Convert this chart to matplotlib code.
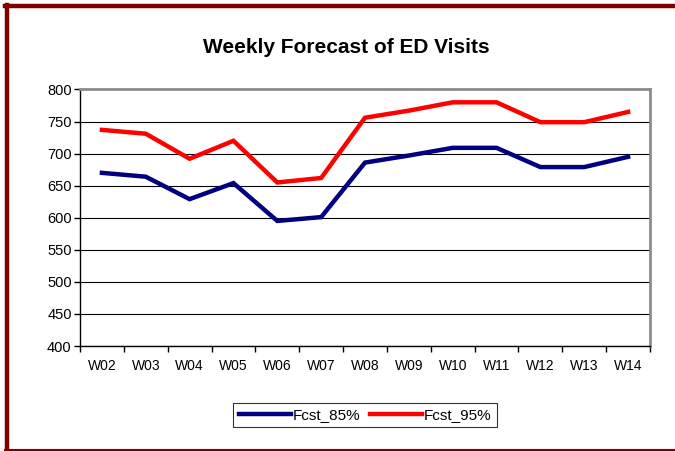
import numpy as np
import matplotlib.pyplot as plt
from matplotlib.lines import Line2D

plt.rcParams['font.family'] = ['Liberation Sans', 'DejaVu Sans']

# data
weeks = ["W02", "W03", "W04", "W05", "W06", "W07", "W08",
         "W09", "W10", "W11", "W12", "W13", "W14"]
fcst_85 = [670, 664, 629, 654, 595, 601, 686, 697, 709, 709, 679, 679, 695]
fcst_95 = [737, 731, 692, 720, 655, 662, 756, 767, 780, 780, 749, 749, 765]

fig = plt.figure(figsize=(6.75, 4.51), dpi=100)
ax = fig.add_axes([0.1185, 0.2328, 0.8445, 0.5688])

x = np.arange(len(weeks))
ax.plot(x, fcst_85, color="#000080", lw=3.2, label="Fcst_85%", solid_joinstyle="miter")
ax.plot(x, fcst_95, color="#FF0000", lw=3.2, label="Fcst_95%", solid_joinstyle="miter")

ax.set_ylim(400, 800)
ax.set_yticks(np.arange(400, 801, 50))
ax.set_xlim(-0.5, len(weeks) - 0.5)
ax.set_xticks(x)
ax.set_xticklabels(weeks)
ax.set_xticks(np.arange(-0.5, len(weeks), 1), minor=True)
ax.tick_params(axis="x", which="major", length=0, pad=9, labelsize=10)
ax.tick_params(axis="x", which="minor", length=4, width=1, direction="out")
ax.tick_params(axis="y", length=4, width=1, direction="out", pad=2, labelsize=10.5)

ax.grid(axis="y", color="black", lw=0.8)
ax.set_axisbelow(True)
for side in ["left", "bottom"]:
    ax.spines[side].set_color("black")
    ax.spines[side].set_linewidth(1)
for side in ["top", "right"]:
    ax.spines[side].set_color("#8c8c8c")
    ax.spines[side].set_linewidth(2)

fig.text(0.513, 0.895, "Weekly Forecast of ED Visits", ha="center", va="center",
         fontsize=15, fontweight="bold")

leg = fig.legend(loc="center", bbox_to_anchor=(0.541, 0.08), ncol=2, frameon=True,
                 fancybox=False, edgecolor="black", fontsize=11, handlelength=3.4,
                 handletextpad=0.15, columnspacing=0.6, borderpad=0.35)
leg.get_frame().set_linewidth(0.8)

# dark red frame round the chart (top, left, bottom)
fig.add_artist(Line2D([0.0074, 1.0], [0.9867, 0.9867], color="#800000", lw=3.2,
                      transform=fig.transFigure))
fig.add_artist(Line2D([0.0104, 0.0104], [0.002, 0.99], color="#800000", lw=3.2,
                      transform=fig.transFigure))
fig.add_artist(Line2D([0.0074, 1.0], [0.003, 0.003], color="#800000", lw=1.5,
                      transform=fig.transFigure))

fig.savefig("out.png", dpi=100)
